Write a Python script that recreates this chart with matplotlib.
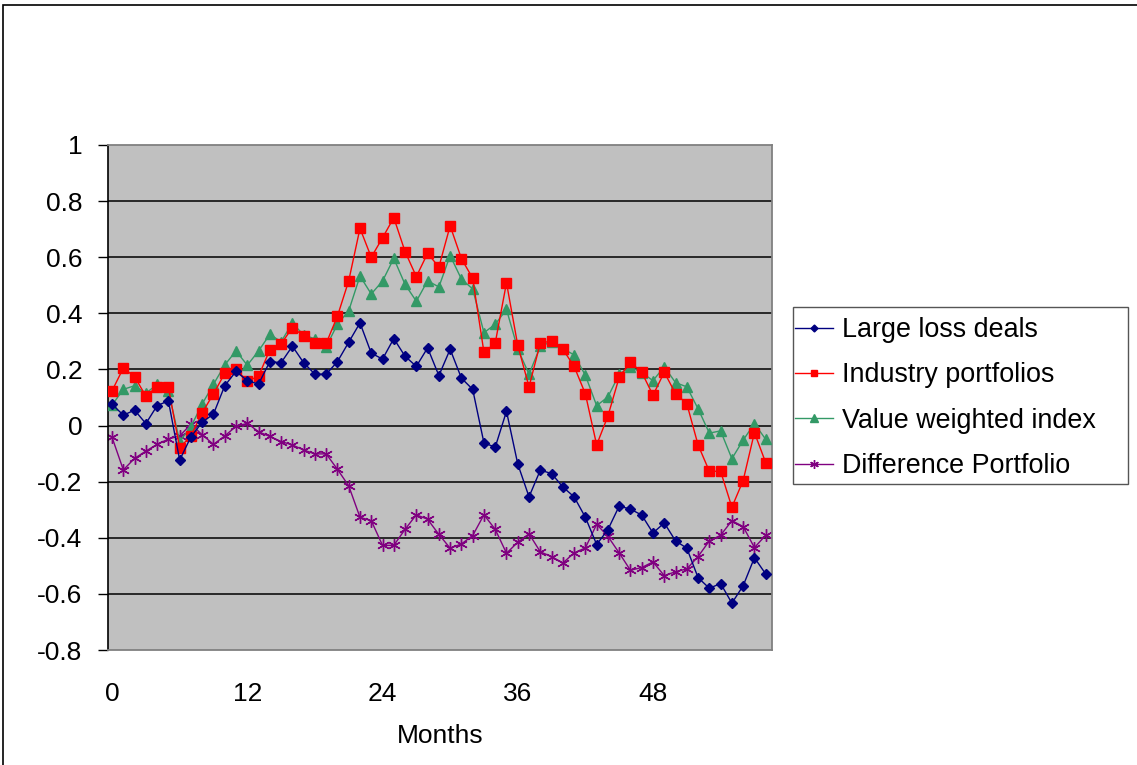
import matplotlib
matplotlib.use('Agg')
import matplotlib.pyplot as plt
from matplotlib.patches import Rectangle

plt.rcParams['font.family'] = ['Liberation Sans', 'DejaVu Sans']

# Dados (meses 0..58)
months = list(range(59))

large_loss = [0.076, 0.037, 0.055, 0.007, 0.071, 0.088, -0.123, -0.04, 0.012, 0.041,
              0.142, 0.193, 0.16, 0.148, 0.228, 0.224, 0.283, 0.224, 0.183, 0.183,
              0.228, 0.297, 0.366, 0.258, 0.237, 0.31, 0.247, 0.211, 0.277, 0.178,
              0.272, 0.169, 0.129, -0.062, -0.077, 0.051, -0.137, -0.254, -0.159, -0.171,
              -0.219, -0.254, -0.327, -0.424, -0.371, -0.287, -0.298, -0.319, -0.383, -0.347,
              -0.411, -0.437, -0.542, -0.58, -0.563, -0.633, -0.571, -0.471, -0.529]

industry = [0.124, 0.205, 0.174, 0.105, 0.139, 0.136, -0.08, -0.036, 0.046, 0.113,
            0.186, 0.2, 0.158, 0.176, 0.27, 0.291, 0.349, 0.32, 0.295, 0.293,
            0.39, 0.516, 0.703, 0.6, 0.669, 0.741, 0.62, 0.531, 0.614, 0.565,
            0.712, 0.595, 0.525, 0.261, 0.294, 0.509, 0.286, 0.138, 0.294, 0.301,
            0.272, 0.211, 0.113, -0.069, 0.034, 0.172, 0.226, 0.19, 0.108, 0.19,
            0.114, 0.078, -0.069, -0.163, -0.163, -0.291, -0.196, -0.025, -0.132]

value_weighted = [0.073, 0.129, 0.142, 0.115, 0.147, 0.124, -0.057, -0.004, 0.077, 0.147,
                  0.216, 0.266, 0.215, 0.266, 0.325, 0.299, 0.365, 0.323, 0.309, 0.281,
                  0.361, 0.409, 0.533, 0.469, 0.515, 0.596, 0.503, 0.443, 0.516, 0.494,
                  0.606, 0.522, 0.487, 0.331, 0.361, 0.414, 0.273, 0.183, 0.282, 0.299,
                  0.274, 0.252, 0.179, 0.071, 0.102, 0.183, 0.209, 0.189, 0.16, 0.21,
                  0.153, 0.138, 0.06, -0.027, -0.019, -0.118, -0.052, 0.007, -0.049]

difference = [-0.042, -0.158, -0.117, -0.091, -0.067, -0.048, -0.037, 0.005, -0.033, -0.067,
              -0.037, -0.003, 0.008, -0.022, -0.039, -0.057, -0.069, -0.087, -0.101, -0.101,
              -0.156, -0.215, -0.327, -0.339, -0.427, -0.427, -0.37, -0.318, -0.334, -0.388,
              -0.437, -0.422, -0.392, -0.318, -0.37, -0.455, -0.416, -0.386, -0.45, -0.467,
              -0.49, -0.454, -0.436, -0.352, -0.395, -0.454, -0.516, -0.506, -0.486, -0.535,
              -0.521, -0.511, -0.467, -0.411, -0.391, -0.339, -0.36, -0.435, -0.391]

x_ticks = [0, 12, 24, 36, 48]
y_ticks = [-0.8, -0.6, -0.4, -0.2, 0, 0.2, 0.4, 0.6, 0.8, 1]
y_labels = ['-0.8', '-0.6', '-0.4', '-0.2', '0', '0.2', '0.4', '0.6', '0.8', '1']

W, H = 1137, 765
fig = plt.figure(figsize=(W / 100, H / 100), dpi=100)

# Moldura externa do grafico (estilo Excel)
fig.patches.append(Rectangle((3 / W, -0.1), 1.2, 1 - 5 / H + 0.1,
                             transform=fig.transFigure, fill=False,
                             edgecolor='black', linewidth=1.2))

ax = fig.add_axes([108 / W, 1 - 650 / H, 664 / W, 505 / H])
ax.set_facecolor('#C0C0C0')

# Linhas de grade
for v in y_ticks[1:-1]:
    ax.axhline(v, color='black', linewidth=1.1, zorder=1)

ax.plot(months, large_loss, color='#000080', linewidth=1.0, marker='D',
        markersize=5, label='Large loss deals', zorder=5)
ax.plot(months, industry, color='#FF0000', linewidth=1.0, marker='s',
        markersize=7, label='Industry portfolios', zorder=4)
ax.plot(months, value_weighted, color='#339966', linewidth=1.0, marker='^',
        markersize=7.5, label='Value weighted index', zorder=3)
ax.plot(months, difference, color='#800080', linewidth=1.0, marker=(6, 2, 0),
        markersize=9, markeredgewidth=1.0, label='Difference Portfolio', zorder=2)

ax.set_xlim(-0.36, 58.56)
ax.set_ylim(-0.8, 1)
ax.set_xticks(x_ticks)
ax.set_yticks(y_ticks)
ax.set_yticklabels(y_labels)
ax.tick_params(axis='y', direction='out', length=7, width=1, labelsize=19, pad=11.5)
ax.tick_params(axis='x', length=0, labelsize=19, pad=23)

for side in ['top', 'right', 'bottom']:
    ax.spines[side].set_color('#808080')
    ax.spines[side].set_linewidth(1.3)
ax.spines['left'].set_color('black')
ax.spines['left'].set_linewidth(1.2)

ax.set_xlabel('Months', fontsize=19, labelpad=13)

# Caixa da legenda desenhada a parte
fig.patches.append(Rectangle((793 / W, 1 - 484 / H), 335 / W, 177 / H,
                             transform=fig.transFigure, fill=False,
                             edgecolor='#555555', linewidth=1.0))

leg = fig.legend(loc='upper left', bbox_to_anchor=(795 / W, 1 - 317 / H),
                 fontsize=19.4, frameon=False, handlelength=1.41,
                 handletextpad=0.33, borderpad=0, labelspacing=0.72,
                 borderaxespad=0, markerscale=0.7)

fig.savefig('out.png', dpi=100)
